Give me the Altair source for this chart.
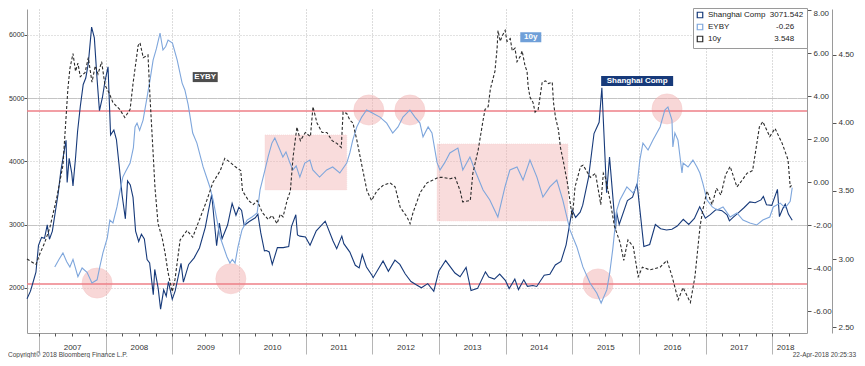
import altair as alt
import pandas as pd

# ---------------- data ----------------
sh_dates = [
    "2006-10-27", "2006-11-15", "2006-11-30", "2006-12-15", "2006-12-29",
    "2007-01-15", "2007-01-31", "2007-02-15", "2007-02-27", "2007-03-15", "2007-03-30", "2007-04-16", "2007-04-30",
    "2007-05-15", "2007-05-29", "2007-06-04", "2007-06-15", "2007-06-29", "2007-07-06", "2007-07-20", "2007-07-31",
    "2007-08-15", "2007-08-31", "2007-09-14", "2007-09-28", "2007-10-16", "2007-10-31", "2007-11-15", "2007-11-28",
    "2007-12-14", "2007-12-28",
    "2008-01-14", "2008-01-28", "2008-02-15", "2008-02-29", "2008-03-14", "2008-03-31", "2008-04-18", "2008-04-30",
    "2008-05-15", "2008-05-30", "2008-06-13", "2008-06-30", "2008-07-15", "2008-07-31", "2008-08-15", "2008-08-29",
    "2008-09-18", "2008-09-26", "2008-10-15", "2008-10-28", "2008-11-14", "2008-11-28", "2008-12-10", "2008-12-31",
    "2009-01-16", "2009-02-17", "2009-03-02", "2009-03-31", "2009-04-30", "2009-05-29", "2009-06-30", "2009-07-15",
    "2009-08-04", "2009-08-31", "2009-09-15", "2009-09-30", "2009-10-30", "2009-11-24", "2009-12-15", "2009-12-31",
    "2010-01-15", "2010-01-29", "2010-02-26", "2010-03-31", "2010-04-14", "2010-04-30", "2010-05-20", "2010-05-31",
    "2010-06-15", "2010-07-02", "2010-07-30", "2010-08-31", "2010-09-30", "2010-10-15", "2010-11-08", "2010-11-17",
    "2010-11-30", "2010-12-31",
    "2011-01-25", "2011-02-28", "2011-04-18", "2011-05-31", "2011-06-20", "2011-07-18", "2011-07-29", "2011-08-31",
    "2011-09-30", "2011-10-21", "2011-11-07", "2011-11-30", "2011-12-31",
    "2012-01-06", "2012-02-29", "2012-03-29", "2012-05-04", "2012-05-31", "2012-06-29", "2012-07-31", "2012-08-31",
    "2012-09-26", "2012-10-31", "2012-12-03", "2012-12-31",
    "2013-02-06", "2013-03-29", "2013-04-26", "2013-05-29", "2013-06-25", "2013-07-31", "2013-09-12", "2013-09-30",
    "2013-10-31", "2013-11-29", "2013-12-31",
    "2014-01-20", "2014-02-20", "2014-03-12", "2014-04-10", "2014-04-30", "2014-05-30", "2014-06-20", "2014-07-31",
    "2014-08-31", "2014-09-30", "2014-10-31", "2014-11-28", "2014-12-31",
    "2015-01-19", "2015-02-13", "2015-02-27", "2015-03-31", "2015-04-30", "2015-05-28", "2015-06-12", "2015-07-08",
    "2015-07-24", "2015-08-26", "2015-08-31", "2015-09-15", "2015-10-30", "2015-11-27", "2015-12-22",
    "2016-01-28", "2016-02-29", "2016-03-31", "2016-04-29", "2016-05-31", "2016-06-30", "2016-07-29", "2016-08-31",
    "2016-09-30", "2016-10-31", "2016-11-29", "2016-12-30",
    "2017-01-26", "2017-02-28", "2017-03-31", "2017-04-28", "2017-05-11", "2017-05-31", "2017-06-30", "2017-07-31",
    "2017-08-31", "2017-09-29", "2017-10-31", "2017-11-13", "2017-11-30", "2017-12-29",
    "2018-01-29", "2018-02-09", "2018-02-28", "2018-03-13", "2018-03-30", "2018-04-20",
]
sh_values = [
    1830, 1950, 2099, 2250, 2675,
    2800, 2786, 2998, 2771, 2900, 3183, 3500, 3841,
    4100, 4334, 3670, 4050, 3820, 3615, 4059, 4471,
    4870, 5218, 5320, 5552, 6124, 5955, 5300, 4803,
    5008, 5262,
    5497, 4420, 4497, 4348, 3962, 3473, 3094, 3693,
    3630, 3433, 2900, 2736, 2850, 2775, 2450, 2397,
    1895, 2293, 1990, 1665, 1970, 1871, 2100, 1821,
    1954, 2389, 2093, 2373, 2477, 2633, 2959, 3188,
    3478, 2667, 3026, 2779, 2996, 3338, 3150, 3277,
    3225, 2989, 3051, 3110, 3166, 2871, 2588, 2592,
    2570, 2373, 2638, 2639, 2656, 2971, 3159, 2838,
    2820, 2808,
    2677, 2905, 3057, 2743, 2621, 2820, 2701, 2568,
    2359, 2317, 2528, 2333, 2199,
    2163, 2428, 2263, 2440, 2373, 2225, 2103, 2047,
    2004, 2069, 1949, 2269,
    2434, 2237, 2178, 2324, 1959, 1994, 2255, 2175,
    2141, 2220, 2116,
    1992, 2140, 1975, 2130, 2026, 2039, 2024, 2201,
    2217, 2364, 2420, 2683, 3235,
    3116, 3200, 3310, 3748, 4442, 4620, 5166, 3507,
    4070, 2927, 3206, 3005, 3383, 3436, 3651,
    2655, 2688, 3004, 2938, 2917, 2930, 2979, 3085,
    3005, 3100, 3283, 3104,
    3159, 3242, 3223, 3155, 3062, 3117, 3192, 3273,
    3361, 3349, 3393, 3447, 3317, 3307,
    3559, 3129, 3259, 3326, 3169, 3071.542,
]

eyby_dates = [
    "2007-03-28", "2007-04-20", "2007-05-12", "2007-06-01", "2007-06-19", "2007-07-06", "2007-08-02", "2007-08-25",
    "2007-09-21", "2007-10-18", "2007-11-15", "2007-12-01", "2007-12-17",
    "2008-01-10", "2008-01-24", "2008-02-10", "2008-03-03", "2008-03-20", "2008-04-04", "2008-04-20", "2008-05-14",
    "2008-06-01", "2008-06-10", "2008-06-21", "2008-07-05", "2008-07-24", "2008-08-15", "2008-08-31", "2008-09-17",
    "2008-10-05", "2008-10-25", "2008-11-10", "2008-11-25", "2008-12-08",
    "2009-01-01", "2009-01-27", "2009-02-23", "2009-03-10", "2009-03-28", "2009-04-22", "2009-05-15", "2009-06-18",
    "2009-07-25", "2009-08-12", "2009-09-02", "2009-09-19", "2009-10-27", "2009-11-12", "2009-11-25", "2009-12-10",
    "2009-12-26",
    "2010-01-17", "2010-02-14", "2010-03-13", "2010-04-10", "2010-04-26", "2010-05-23", "2010-06-10", "2010-06-30",
    "2010-07-16", "2010-08-13", "2010-08-29", "2010-09-15", "2010-10-07", "2010-10-23", "2010-11-10", "2010-11-30",
    "2010-12-27",
    "2011-01-24", "2011-02-09", "2011-03-18", "2011-04-26", "2011-05-29", "2011-07-07", "2011-08-14", "2011-08-31",
    "2011-09-16", "2011-10-08", "2011-11-04", "2011-12-01",
    "2012-01-04", "2012-02-12", "2012-03-20", "2012-04-22", "2012-05-21", "2012-06-17", "2012-07-25", "2012-08-22",
    "2012-09-18", "2012-10-05", "2012-11-02", "2012-11-23", "2012-12-21",
    "2013-01-06", "2013-02-01", "2013-03-01", "2013-04-14", "2013-05-11", "2013-06-19", "2013-07-16", "2013-08-30",
    "2013-10-06", "2013-11-19", "2013-12-28",
    "2014-01-24", "2014-03-04", "2014-04-06", "2014-05-14", "2014-06-21", "2014-07-24", "2014-08-31", "2014-10-08",
    "2014-11-10", "2014-12-19",
    "2015-01-26", "2015-02-28", "2015-04-08", "2015-05-15", "2015-06-08", "2015-07-09", "2015-07-25", "2015-08-11",
    "2015-09-02", "2015-09-19", "2015-10-27", "2015-11-29", "2015-12-21",
    "2016-01-06", "2016-01-23", "2016-02-20", "2016-03-18", "2016-04-26", "2016-05-22", "2016-06-08", "2016-06-30",
    "2016-07-05", "2016-07-16", "2016-08-02", "2016-08-24", "2016-08-30", "2016-09-26", "2016-10-23", "2016-11-14",
    "2016-11-30", "2016-12-16",
    "2017-01-08", "2017-02-06", "2017-03-04", "2017-04-06", "2017-05-15", "2017-06-21", "2017-07-24", "2017-08-31",
    "2017-10-08", "2017-11-10", "2017-12-18",
    "2018-01-06", "2018-02-13", "2018-03-13", "2018-04-09", "2018-04-20",
]
eyby_values = [
    -3.95, -3.6, -3.3, -3.7, -3.95, -3.6, -4.4, -4.0,
    -4.2, -4.7, -4.55, -3.9, -3.3,
    -2.6, -1.77, -1.9, -1.16, -0.4, 0.23, 0.5, 0.88,
    1.6, 2.56, 2.74, 2.4, 2.88, 3.95, 4.74, 5.67,
    6.2, 6.93, 6.14, 6.3, 6.6,
    6.46, 5.67, 4.6, 4.28, 3.6, 2.28, 1.81, 0.7,
    -0.23, -0.84, -1.77, -2.56, -3.49, -3.77, -3.6, -3.77,
    -3.02,
    -2.23, -1.77, -1.63, -1.44, -0.37, 0.56, 1.2, 1.81,
    2.05, 1.49, 1.16, 1.4, 0.88, 0.56, 0.75, 0.23,
    0.88,
    1.02, 0.56, 0.23, 0.56, 0.7, 0.42, 0.88, 1.35,
    1.95, 2.56, 3.02, 3.35,
    3.2, 3.02, 2.74, 2.28, 2.56, 3.02, 3.35, 3.02,
    2.74, 2.1, 2.56, 2.28, 0.9,
    0.56, 0.9, 1.35, 1.58, 0.56, 1.16, 0.56, -0.37,
    -0.84, -1.63, -0.23,
    0.56, 0.7, 0.09, 1.02, 0.23, -0.7, -0.23, 0.09,
    -0.84, -2.23,
    -3.02, -3.95, -4.7, -5.16, -5.63, -5.02, -4.23, -3.1,
    -1.3, -0.84, -0.23, -0.51, -0.23,
    1.02, 1.81, 1.49, 1.95, 2.56, 3.35, 3.49, 2.88,
    1.63, 2.28, 1.95, 0.42, 0.88, 0.7, 1.02, 0.7,
    0.42, -0.05,
    -0.84, -1.16, -1.3, -1.16, -1.63, -1.44, -1.77, -1.91,
    -2.0, -1.77, -1.63,
    -1.16, -0.98, -1.2, -0.9, -0.26,
]

y10_dates = [
    "2006-10-27", "2006-11-20", "2006-12-15",
    "2007-01-06", "2007-02-01", "2007-03-01", "2007-04-08", "2007-05-12", "2007-06-08", "2007-06-19", "2007-07-06",
    "2007-07-20", "2007-08-02", "2007-08-15", "2007-09-10", "2007-09-28", "2007-10-18", "2007-11-05", "2007-11-20",
    "2007-12-10", "2007-12-28",
    "2008-01-20", "2008-02-10", "2008-03-18", "2008-04-15", "2008-05-14", "2008-05-30", "2008-06-27", "2008-07-07",
    "2008-07-25", "2008-08-20", "2008-08-31", "2008-09-17", "2008-09-27", "2008-10-14", "2008-11-05", "2008-11-22",
    "2008-12-08", "2008-12-31",
    "2009-01-15", "2009-02-12", "2009-03-22", "2009-04-22", "2009-06-01", "2009-07-08", "2009-08-10", "2009-09-20",
    "2009-10-15", "2009-11-14", "2009-12-10",
    "2010-01-10", "2010-01-20", "2010-02-22", "2010-03-20", "2010-04-10", "2010-05-09", "2010-06-10", "2010-07-01",
    "2010-07-28", "2010-08-15", "2010-08-30", "2010-09-21", "2010-10-09", "2010-10-24", "2010-11-14", "2010-12-03",
    "2010-12-30",
    "2011-01-27", "2011-02-10", "2011-03-04", "2011-04-01", "2011-04-27", "2011-05-26", "2011-06-21", "2011-07-15",
    "2011-07-25", "2011-08-14", "2011-09-01", "2011-09-17", "2011-10-09", "2011-11-06", "2011-12-03", "2011-12-28",
    "2012-01-26", "2012-02-28", "2012-04-07", "2012-05-05", "2012-06-02", "2012-07-09", "2012-07-26", "2012-08-11",
    "2012-09-20", "2012-10-27", "2012-11-28", "2012-12-27",
    "2013-01-20", "2013-03-03", "2013-03-30", "2013-04-27", "2013-05-10", "2013-06-21", "2013-07-05", "2013-08-03",
    "2013-08-30", "2013-09-10", "2013-09-27", "2013-10-09", "2013-11-03", "2013-11-15", "2013-11-20", "2013-12-02",
    "2013-12-13", "2013-12-29",
    "2014-01-08", "2014-01-26", "2014-02-06", "2014-02-21", "2014-03-04", "2014-03-22", "2014-04-01", "2014-04-17",
    "2014-04-28", "2014-05-04", "2014-05-14", "2014-05-31", "2014-06-11", "2014-06-28", "2014-07-20", "2014-08-07",
    "2014-08-23", "2014-09-13", "2014-09-20", "2014-10-01", "2014-10-17", "2014-10-28", "2014-11-14", "2014-12-05",
    "2014-12-21",
    "2015-01-01", "2015-01-16", "2015-02-15", "2015-03-01", "2015-04-10", "2015-05-08", "2015-06-06", "2015-06-20",
    "2015-07-01", "2015-07-27", "2015-08-20", "2015-09-20", "2015-10-10", "2015-11-02", "2015-12-01", "2015-12-28",
    "2016-01-20", "2016-03-01", "2016-04-26", "2016-06-03", "2016-07-01", "2016-08-03", "2016-08-30", "2016-10-09",
    "2016-11-03", "2016-12-01", "2016-12-16",
    "2017-01-08", "2017-02-05", "2017-03-01", "2017-03-25", "2017-04-20", "2017-05-15", "2017-06-21", "2017-07-20",
    "2017-08-15", "2017-09-15", "2017-10-22", "2017-11-10", "2017-12-18",
    "2018-01-16", "2018-02-24", "2018-03-28", "2018-04-09", "2018-04-20",
]
y10_values = [
    3.00, 2.98, 2.96,
    3.04, 3.12, 3.23, 3.45, 3.69, 4.25, 4.40, 4.51,
    4.38, 4.44, 4.34, 4.37, 4.48, 4.30, 4.42, 4.36,
    4.45, 4.28,
    4.22, 4.15, 4.10, 4.04, 4.10, 4.29, 4.57, 4.59,
    4.48, 4.50, 4.19, 3.78, 3.53, 3.26, 3.16, 3.04,
    2.90, 2.76,
    2.85, 3.14, 3.21, 3.16, 3.30, 3.43, 3.56, 3.65,
    3.74, 3.71, 3.68,
    3.65, 3.50, 3.43, 3.40, 3.43, 3.34, 3.29, 3.32,
    3.26, 3.33, 3.31, 3.43, 3.50, 3.75, 3.97, 3.87,
    3.93,
    3.90, 4.12, 4.00, 3.93, 3.93, 3.87, 3.85, 3.82,
    4.08, 4.07, 4.02, 4.00, 3.87, 3.68, 3.50, 3.43,
    3.50, 3.54, 3.56, 3.53, 3.38, 3.31, 3.26, 3.34,
    3.49, 3.56, 3.58, 3.60,
    3.60, 3.59, 3.60, 3.50, 3.42, 3.43, 3.63, 3.80,
    4.02, 4.10, 4.12, 4.25, 4.38, 4.55, 4.68, 4.60,
    4.64, 4.68,
    4.60, 4.62, 4.53, 4.55, 4.45, 4.49, 4.53, 4.42,
    4.38, 4.27, 4.19, 4.15, 4.08, 4.10, 4.30, 4.31,
    4.29, 4.30, 4.15, 4.04, 3.95, 3.82, 3.71, 3.56,
    3.41,
    3.30, 3.53, 3.68, 3.69, 3.60, 3.63, 3.40, 3.63,
    3.60, 3.43, 3.24, 3.12, 2.99, 3.14, 3.09, 2.87,
    2.94, 2.92, 2.94, 2.99, 2.87, 2.70, 2.79, 2.68,
    2.87, 3.24, 3.36,
    3.50, 3.40, 3.52, 3.47, 3.62, 3.68, 3.53, 3.58,
    3.63, 3.65, 3.97, 4.01, 3.90,
    3.96, 3.85, 3.73, 3.53, 3.548,
]

series_names = ["Shanghai Comp", "EYBY", "10y"]
last_values = ["3071.542", "-0.26", "3.548"]

# highlighted zones (EYBY units)
band_start = ["2010-05-23", "2012-12-21"]
band_end = ["2011-08-14", "2014-12-08"]
band_top = [2.19, 1.77]
band_bottom = [-0.37, -1.81]

circle_dates = ["2007-11-15", "2009-11-17", "2011-12-13", "2012-07-25", "2015-05-22", "2016-06-03"]
circle_values = [-4.70, -4.50, 3.35, 3.35, -4.74, 3.40]

eyby_levels = [3.30, -4.74]

ann_texts = ["Shanghai Comp", "EYBY", "10y"]
ann_dates = ["2015-06-08", "2009-04-22", "2014-03-22"]
ann_values = [5273, 4.88, 4.63]
ann_axis = ["sh", "eyby", "y10"]

year_starts = list(range(2007, 2019))
label_dates = [(y, 7, 1) for y in range(2007, 2018)] + [(2018, 3, 12)]
quarter_ticks = [(y, m) for y in range(2007, 2019) for m in (1, 4, 7, 10) if not (y == 2018 and m > 4)]

y_left_ticks = [2000, 3000, 4000, 5000, 6000]
y_eyby_ticks = [-6, -4, -2, 0, 2, 4, 6, 8]
y_10y_ticks = [2.5, 3.0, 3.5, 4.0, 4.5]

copyright_text = "Copyright\u00a9 2018 Bloomberg Finance L.P."
stamp_text = "22-Apr-2018 20:25:33"

# ---------------- styles ----------------
FONT = "Liberation Sans"
NAVY = "#173a7a"
LBLUE = "#7ea6dc"
DARK = "#2b2b2b"
series_colors = [NAVY, LBLUE, DARK]
ann_fill = [NAVY, "#4d4d4d", "#6f9fd8"]
ann_width = [72, 25, 21]
legend_pad = [2, 21, 24]

x_scale = alt.Scale(domain=[alt.DateTime(year=2006, month=10, date=27),
                            alt.DateTime(year=2018, month=7, date=10)])
scales = {
    "sh": alt.Scale(domain=[1288.5, 6411], zero=False, nice=False),
    "eyby": alt.Scale(domain=[-7.023, 8.047], zero=False, nice=False),
    "y10": alt.Scale(domain=[2.456, 4.838], zero=False, nice=False),
}

NBSP = "\u00a0"
parts = [f"datum.label == '{n}' ? '{n}{NBSP * p}{v}'" for n, v, p in zip(series_names, last_values, legend_pad)]
legend_expr = " : ".join(parts) + " : datum.label"

legend = alt.Legend(title=None, orient="none", legendX=666, legendY=-1, direction="vertical",
                    fillColor="white", strokeColor="#9a9a9a", padding=3, cornerRadius=0,
                    symbolType="square", symbolSize=30, symbolStrokeWidth=1.2, labelFont=FONT,
                    labelFontSize=8, labelColor="#222222", labelLimit=300, rowPadding=0,
                    labelOffset=4, labelExpr=legend_expr)
color_enc = alt.Color("series:N", scale=alt.Scale(domain=series_names, range=series_colors), legend=legend)

x_axis_years = alt.Axis(values=[alt.DateTime(year=y, month=1, date=1) for y in year_starts], labels=False,
                        orient="bottom", title=None, tickSize=21, tickColor="#b5b5b5", grid=True,
                        gridDash=[1, 2], gridColor="#b8b8b8", domain=True, domainColor="#9a9a9a")
x_axis_labels = alt.Axis(values=[alt.DateTime(year=y, month=m, date=d) for y, m, d in label_dates],
                         orient="bottom", format="%Y", title=None, ticks=False, tickSize=0, labelPadding=10,
                         domain=False, grid=False, labelFont=FONT, labelFontSize=8, labelColor="#333333",
                         labelOverlap=False, labelFlush=False)
x_axis_quarters = alt.Axis(values=[alt.DateTime(year=y, month=m, date=1) for y, m in quarter_ticks],
                           orient="bottom", labels=False, title=None, tickSize=3, tickColor="#555555",
                           domain=False, grid=False)

grid_dash = {"condition": {"test": "datum.value == 5000 || datum.value == 3000", "value": [10, 0]},
             "value": [1, 2]}
left_axis = alt.Axis(values=y_left_ticks, format="d", title=None, orient="left", tickSize=3, labelPadding=0,
                     tickColor="#555555", labelFont=FONT, labelFontSize=7, labelColor="#333333",
                     domainColor="#9a9a9a", grid=True, gridColor="#c4c4c4", gridDash=grid_dash)
eyby_axis = alt.Axis(values=y_eyby_ticks, format=".2f", title=None, orient="right", tickSize=4,
                     labelPadding=2, tickColor="#555555", labelFont=FONT, labelFontSize=8,
                     labelColor="#333333", domainColor="#9a9a9a", grid=False,
                     labelOffset={"condition": {"test": "datum.value == 8", "value": 3}, "value": 0},
                     labelExpr="replace(format(datum.value, '.2f'), '\u2212', '-')")
y10_axis = alt.Axis(values=y_10y_ticks, format=".2f", title=None, orient="right", offset=25, tickSize=4,
                    labelPadding=2, tickColor="#555555", labelFont=FONT, labelFontSize=8,
                    labelColor="#333333", domainColor="#9a9a9a", grid=False)


def frame(dates, values, name):
    return pd.DataFrame({"date": dates, "value": values, "series": name})


layers = []

# pink zones
bands = pd.DataFrame({"start": band_start, "end": band_end, "top": band_top, "bottom": band_bottom})
layers.append(alt.Chart(bands).mark_rect(color="#f3b2b2", opacity=0.45, stroke="#e9a0a0", strokeWidth=0.6,
                                         strokeDash=[1, 1]).encode(
    x=alt.X("start:T", scale=x_scale, axis=None), x2="end:T",
    y=alt.Y("top:Q", scale=scales["eyby"], axis=None), y2="bottom:Q"))

circles = pd.DataFrame({"date": circle_dates, "value": circle_values})
layers.append(alt.Chart(circles).mark_circle(size=900, color="#f3b0b0", opacity=0.5, stroke="#ec9a9a",
                                             strokeWidth=0.6).encode(
    x=alt.X("date:T", scale=x_scale, axis=None),
    y=alt.Y("value:Q", scale=scales["eyby"], axis=None)))

levels = pd.DataFrame({"level": eyby_levels})
layers.append(alt.Chart(levels).mark_rule(color="#ee7f87", strokeWidth=1.5).encode(
    y=alt.Y("level:Q", scale=scales["eyby"], axis=None)))

# lines
layers.append(alt.Chart(frame(sh_dates, sh_values, "Shanghai Comp")).mark_line(strokeWidth=1.1).encode(
    x=alt.X("date:T", scale=x_scale, axis=x_axis_years),
    y=alt.Y("value:Q", scale=scales["sh"], axis=left_axis), color=color_enc))
layers.append(alt.Chart(frame(eyby_dates, eyby_values, "EYBY")).mark_line(strokeWidth=1.1).encode(
    x=alt.X("date:T", scale=x_scale, axis=x_axis_labels),
    y=alt.Y("value:Q", scale=scales["eyby"], axis=eyby_axis), color=color_enc))
layers.append(alt.Chart(frame(y10_dates, y10_values, "10y")).mark_line(strokeWidth=1.1, strokeDash=[3, 2]).encode(
    x=alt.X("date:T", scale=x_scale, axis=x_axis_quarters),
    y=alt.Y("value:Q", scale=scales["y10"], axis=y10_axis), color=color_enc))

# series labels
for t, d, v, ax, fill, w in zip(ann_texts, ann_dates, ann_values, ann_axis, ann_fill, ann_width):
    df = pd.DataFrame({"date": [d], "value": [v], "label": [t]})
    layers.append(alt.Chart(df).mark_rect(color=fill, x2Offset=w, yOffset=-5, y2Offset=5).encode(
        x=alt.X("date:T", scale=x_scale, axis=None), x2="date:T",
        y=alt.Y("value:Q", scale=scales[ax], axis=None), y2="value:Q"))
    layers.append(alt.Chart(df).mark_text(color="white", fontWeight="bold", font=FONT, fontSize=8,
                                          align="center", baseline="middle", dx=w / 2).encode(
        x=alt.X("date:T", scale=x_scale, axis=None),
        y=alt.Y("value:Q", scale=scales[ax], axis=None), text="label:N"))

# footer
layers.append(alt.Chart(pd.DataFrame({"t": [copyright_text]})).mark_text(
    align="left", baseline="bottom", font=FONT, fontSize=6.5, color="#444444").encode(
    text="t:N", x=alt.value(-19), y=alt.value(349)))
layers.append(alt.Chart(pd.DataFrame({"t": [stamp_text]})).mark_text(
    align="right", baseline="bottom", font=FONT, fontSize=6.5, color="#444444").encode(
    text="t:N", x=alt.value(829), y=alt.value(349)))

chart = (
    alt.layer(*layers)
    .resolve_scale(y="independent")
    .resolve_axis(x="independent", y="independent")
    .properties(width=780, height=324, autosize=alt.AutoSizeParams(type="none"),
                padding={"left": 19, "top": 1, "right": 50, "bottom": 25}, background="white")
    .configure_view(stroke=None)
)

chart.save("out.html", embed_options={"renderer": "svg", "actions": False})
